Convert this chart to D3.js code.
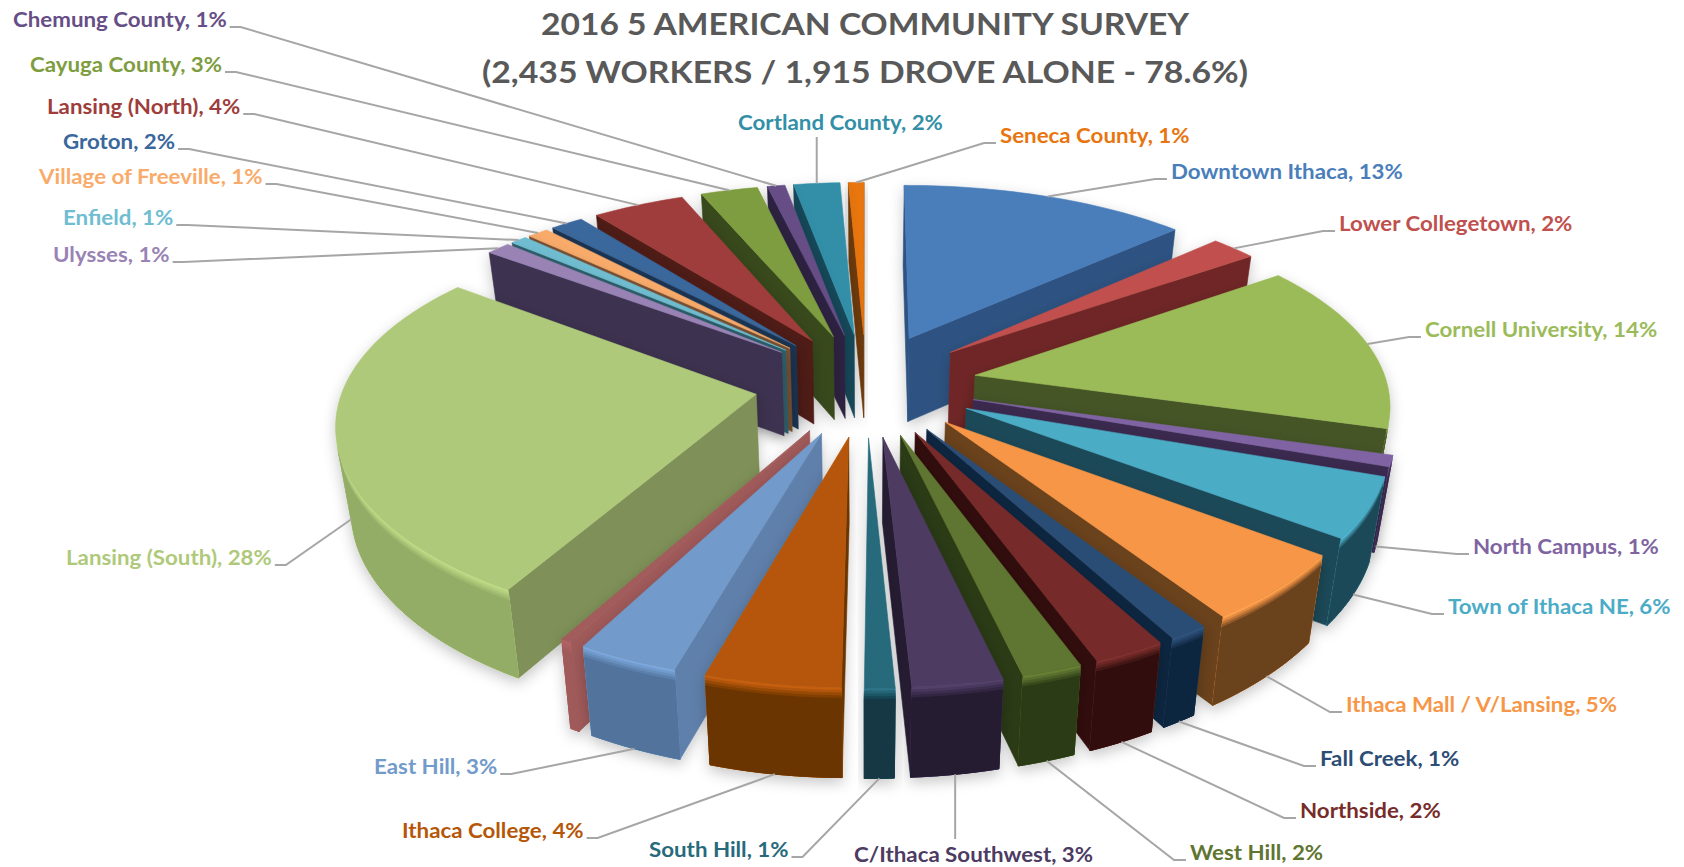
<!DOCTYPE html>
<html>
<head>
<meta charset="utf-8">
<script src="https://cdn.jsdelivr.net/npm/d3@7"></script>
<style>
  html, body { margin: 0; background: #fff; }
  text { font-family: Lato, "Open Sans", sans-serif; font-weight: 700; }
</style>
</head>
<body>
<svg id="chart" width="1684" height="867"></svg>
<script>
const titleLines = [
  "2016 5 AMERICAN COMMUNITY SURVEY",
  "(2,435 WORKERS / 1,915 DROVE ALONE - 78.6%)",
];

// clockwise from 12 o'clock; the unnamed sliver has no label in the picture
const categories = [
  "Downtown Ithaca", "Lower Collegetown", "Cornell University", "North Campus",
  "Town of Ithaca NE", "Ithaca Mall / V/Lansing", "Fall Creek", "Northside",
  "West Hill", "C/Ithaca Southwest", "South Hill", "Ithaca College", "East Hill",
  "", "Lansing (South)", "Ulysses", "Enfield", "Village of Freeville", "Groton",
  "Lansing (North)", "Cayuga County", "Chemung County", "Cortland County",
  "Seneca County",
];
const percentLabels = [13, 2, 14, 1, 6, 5, 1, 2, 2, 3, 1, 4, 3, null, 28, 1, 1, 1, 2, 4, 3, 1, 2, 1];
// slice widths as they appear in the drawn pie, which differ a little from the printed labels
const shares = [13.1, 2.1, 14.2, 0.9, 4.8, 5.4, 1.3, 2.4, 2, 3, 1, 4.5, 3.35, 0.35, 27, 1.1, 0.75, 0.95, 1.5, 4.2, 2.6, 0.8, 2.1, 0.7];

const topColors = [
  "#4a7ebb", "#c0504d", "#9bbb59", "#8064a2", "#4bacc6", "#f79646",
  "#2c4d75", "#772c2a", "#5f7530", "#4d3b62", "#276a7c", "#b65708",
  "#729aca", "#a35b5b", "#afc97a", "#9983b5", "#6fbdd1", "#f9ab6b",
  "#3a679c", "#9e3d3b", "#7e9d40", "#664e86", "#338fa7", "#e8750f",
];
const wallColors = [
  "#2d5282", "#702826", "#445526", "#3b2b50", "#1f4a58", "#6a421e",
  "#10253f", "#30100f", "#2a3a15", "#251c33", "#133844", "#6a3405",
  "#5e80ab", "#a05a5a", "#7f9058", "#3d3150", "#2f5f6c", "#7a5334",
  "#1c3552", "#4f1a19", "#384a1c", "#2e2342", "#17495a", "#6e3a08",
];
const rimColors = [
  "#2d5282", "#702826", "#445526", "#3b2b50", "#1f4a58", "#6a421e",
  "#10253f", "#30100f", "#2a3a15", "#251c33", "#133844", "#6a3405",
  "#51739c", "#a05a5a", "#93ac66", "#3d3150", "#2f5f6c", "#7a5334",
  "#1c3552", "#4f1a19", "#384a1c", "#2e2342", "#17495a", "#6e3a08",
];

// left edge and vertical middle of every label
const labelLeft = [1171, 1339, 1425, 1473, 1448, 1346, 1320, 1300, 1190, 854, 649, 402, 374, 0, 66, 53, 63, 39, 63, 47, 30, 13, 738, 1000];
const labelMiddle = [172, 224, 330, 547, 607, 705, 759, 811, 853, 855, 850, 831, 767, 0, 558, 255, 218, 177, 142, 107, 65, 20, 123, 136];

const centerX = 866;
const centerY = 384;
const planeX = d3.scaleLinear().domain([-1, 1]).range([-412, 412]);
const planeY = d3.scaleLinear().domain([-1, 1]).range([-191, 191]);
const perspectiveX = 0.13;
const perspectiveY = 0.16;
const explode = 0.27;
const thickness = 84;
const labelSize = 20;
const labelStretch = 1.115;

function project(X, Y, depth) {
  return [
    centerX + (planeX(X) * (1 - 0.03 * depth)) / (1 - perspectiveX * Y),
    centerY + (planeY(Y) * (1 + 0.02 * depth)) / (1 - perspectiveY * Y) + thickness * depth,
  ];
}

function signedArea(points) {
  return d3.sum(points, (p, i) => {
    const q = points[(i + 1) % points.length];
    return p[0] * q[1] - q[0] * p[1];
  });
}

const svg = d3.select("#chart");
const shadow = svg
  .append("defs")
  .append("filter")
  .attr("id", "slice-shadow")
  .attr("x", "-20%")
  .attr("y", "-20%")
  .attr("width", "140%")
  .attr("height", "140%");
shadow
  .append("feDropShadow")
  .attr("dx", 0)
  .attr("dy", 5)
  .attr("stdDeviation", 7)
  .attr("flood-color", "#000")
  .attr("flood-opacity", 0.22);

const polygon = d3.line().curve(d3.curveLinearClosed);
const bevelStops = [0, 0.03, 0.06, 0.09, 0.12];

const slices = d3
  .pie()
  .sort(null)
  .value((d) => d)(shares)
  .map((d, i) => {
    const mid = (d.startAngle + d.endAngle) / 2;
    const offX = explode * Math.sin(mid);
    const offY = -explode * Math.cos(mid);
    return {
      i,
      mid,
      offY,
      start: d.startAngle,
      end: d.endAngle,
      point: (angle, r, depth) =>
        project(offX + r * Math.sin(angle), offY - r * Math.cos(angle), depth),
    };
  });

const sliceG = svg.append("g");

slices
  .slice()
  .sort((a, b) => a.offY - b.offY)
  .forEach((s) => {
    const g = sliceG.append("g").attr("filter", "url(#slice-shadow)");
    const addFace = (points, fill) => {
      g.append("path")
        .attr("d", polygon(points))
        .attr("fill", fill)
        .attr("stroke", fill)
        .attr("stroke-width", 0.6);
    };

    const wallAt = (angle) => [
      s.point(angle, 0, 0),
      s.point(angle, 1, 0),
      s.point(angle, 1, 1),
      s.point(angle, 0, 1),
    ];
    const startWall = wallAt(s.start);
    const endWall = wallAt(s.end);
    if (signedArea(startWall) < 0) addFace(startWall, wallColors[s.i]);
    if (signedArea(endWall) > 0) addFace(endWall, wallColors[s.i]);

    const steps = Math.max(4, Math.ceil((s.end - s.start) / 0.02));
    const angleAt = d3.scaleLinear().domain([0, steps]).range([s.start, s.end]);
    const angles = d3.range(steps + 1).map(angleAt);

    // the part of the curved wall that faces the viewer, one outline per band
    const faces = angles.slice(0, -1).map((a0, k) =>
      signedArea([
        s.point(a0, 1, 0),
        s.point(angles[k + 1], 1, 0),
        s.point(angles[k + 1], 1, 1),
        s.point(a0, 1, 1),
      ]) < 0,
    );
    const seen = angles.filter((a, k) => faces[k] || faces[k - 1]);
    const bevel = d3.interpolateRgb(
      d3.color(topColors[s.i]).brighter(0.25),
      rimColors[s.i],
    );
    if (seen.length > 1) {
      bevelStops.forEach((d0, n) => {
        const outline = seen
          .map((a) => s.point(a, 1, d0))
          .concat(seen.slice().reverse().map((a) => s.point(a, 1, 1)));
        addFace(outline, bevel(n / (bevelStops.length - 1)));
      });
    }

    addFace(
      [s.point(s.start, 0, 0)].concat(angles.map((a) => s.point(a, 1, 0))),
      topColors[s.i],
    );
  });

svg
  .append("g")
  .attr("text-anchor", "middle")
  .attr("fill", "#595959")
  .attr("font-size", 31)
  .selectAll("text")
  .data(titleLines)
  .join("text")
  .attr("x", 865)
  .attr("y", (d, i) => 35 + i * 48)
  .attr("textLength", (d, i) => [648, 766][i])
  .attr("lengthAdjust", "spacingAndGlyphs")
  .text((d) => d);

const labelG = svg.append("g");
const leaderG = svg
  .append("g")
  .attr("fill", "none")
  .attr("stroke", "#a6a6a6")
  .attr("stroke-width", 2);

slices
  .filter((s) => categories[s.i] !== "")
  .forEach((s) => {
    const label = labelG
      .append("text")
      .attr("x", labelLeft[s.i])
      .attr("y", labelMiddle[s.i] + 7)
      .attr("font-size", labelSize)
      .attr("fill", topColors[s.i])
      .attr("lengthAdjust", "spacingAndGlyphs")
      .text(`${categories[s.i]}, ${percentLabels[s.i]}%`);
    const textWidth = label.node().getComputedTextLength() * labelStretch;
    label.attr("textLength", textWidth);

    // near slices take the leader on the foot of the wall, far ones on the rim
    const rimY = s.offY - Math.cos(s.mid);
    const [endX, endY] = s.point(s.mid, 1, rimY > 0.2 ? 1 : 0);
    const left = labelLeft[s.i];
    const right = left + textWidth;
    const stubY = labelMiddle[s.i] + 7;
    let points;
    if (endX > left && endX < right) {
      const edge = endY > labelMiddle[s.i] ? labelMiddle[s.i] + 14 : labelMiddle[s.i] - 16;
      points = [[endX, endY], [endX, edge]];
    } else if (endX >= right) {
      points = [[endX, endY], [right + 14, stubY], [right + 3, stubY]];
    } else {
      points = [[endX, endY], [left - 16, stubY], [left - 4, stubY]];
    }
    leaderG.append("path").attr("d", d3.line()(points));
  });
</script>
</body>
</html>
